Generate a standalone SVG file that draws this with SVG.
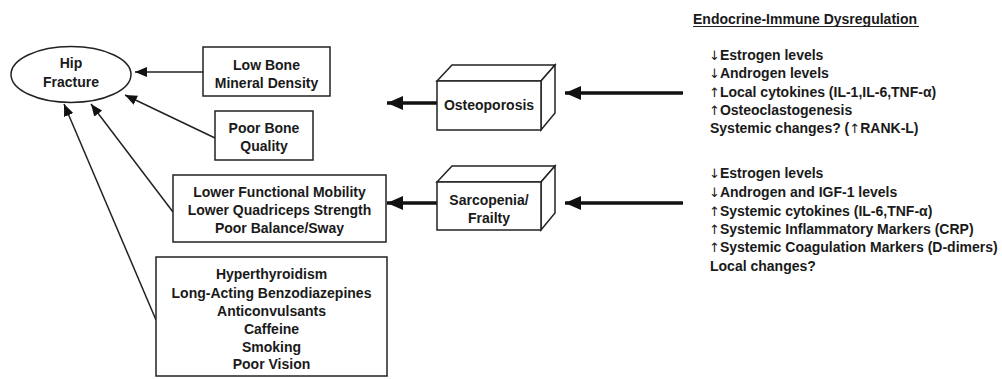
<svg xmlns="http://www.w3.org/2000/svg" width="1002" height="379" viewBox="0 0 1002 379">
<defs>
<style>
text{font-family:"Liberation Sans",Arial,sans-serif;font-weight:bold;font-size:14px;fill:#1a1a1a}
.c{text-anchor:middle}
.ar{font-family:"DejaVu Sans",sans-serif;font-weight:normal;font-size:13px}
.box{fill:#fff;stroke:#222;stroke-width:1.5}
.thin{stroke:#222;stroke-width:1.5;fill:none}
.thick{stroke:#111;stroke-width:3.5;fill:none}
</style>
<marker id="ah" viewBox="0 0 12 10" refX="12" refY="5" markerWidth="12" markerHeight="10" markerUnits="userSpaceOnUse" orient="auto"><path d="M0,0 L12,5 L0,10 Z" fill="#111"/></marker>
<marker id="ahb" viewBox="0 0 16 14" refX="16" refY="7" markerWidth="16" markerHeight="14" markerUnits="userSpaceOnUse" orient="auto"><path d="M0,0 L16,7 L0,14 Z" fill="#111"/></marker>
</defs>
<rect width="1002" height="379" fill="#fff"/>
<g id="connectors">
<line class="thin" x1="203" y1="72" x2="135" y2="72" marker-end="url(#ah)"/>
<line class="thin" x1="215" y1="138" x2="125" y2="95" marker-end="url(#ah)"/>
<line class="thin" x1="173" y1="212" x2="91" y2="104" marker-end="url(#ah)"/>
<line class="thin" x1="156" y1="320" x2="64" y2="104" marker-end="url(#ah)"/>
<line class="thick" x1="437" y1="103" x2="387" y2="103" marker-end="url(#ahb)"/>
<line class="thick" x1="437" y1="203" x2="387" y2="203" marker-end="url(#ahb)"/>
<line class="thick" x1="683" y1="93" x2="565" y2="93" marker-end="url(#ahb)"/>
<line class="thick" x1="683" y1="203" x2="565" y2="203" marker-end="url(#ahb)"/>
</g>
<g id="hip-fracture">
<ellipse class="box" cx="71" cy="74.5" rx="60" ry="28"/>
<text class="c" x="71" y="68">Hip</text>
<text class="c" x="71" y="87">Fracture</text>
</g>
<g id="low-bmd">
<rect class="box" x="203" y="47" width="127" height="49"/>
<text class="c" x="266.5" y="70">Low Bone</text>
<text class="c" x="266.5" y="88">Mineral Density</text>
</g>
<g id="poor-bone-quality">
<rect class="box" x="215" y="111" width="98" height="49"/>
<text class="c" x="264" y="133">Poor Bone</text>
<text class="c" x="264" y="151">Quality</text>
</g>
<g id="mobility">
<rect class="box" x="173" y="175" width="213" height="67"/>
<text class="c" x="279.5" y="197">Lower Functional Mobility</text>
<text class="c" x="279.5" y="215">Lower Quadriceps Strength</text>
<text class="c" x="279.5" y="233">Poor Balance/Sway</text>
</g>
<g id="other-factors">
<rect class="box" x="156" y="257" width="231" height="119"/>
<text class="c" x="271.5" y="279">Hyperthyroidism</text>
<text class="c" x="271.5" y="298">Long-Acting Benzodiazepines</text>
<text class="c" x="271.5" y="316">Anticonvulsants</text>
<text class="c" x="271.5" y="334">Caffeine</text>
<text class="c" x="271.5" y="352">Smoking</text>
<text class="c" x="271.5" y="369">Poor Vision</text>
</g>
<g id="osteoporosis">
<path class="box" d="M437,81 L452,65 L555,65 L541,81 Z"/>
<path class="box" d="M541,81 L555,65 L555,113 L541,130 Z"/>
<rect class="box" x="437" y="81" width="104" height="49"/>
<text class="c" x="489" y="110">Osteoporosis</text>
</g>
<g id="sarcopenia">
<path class="box" d="M437,182 L452,166 L555,166 L541,182 Z"/>
<path class="box" d="M541,182 L555,166 L555,213 L541,230 Z"/>
<rect class="box" x="437" y="182" width="104" height="48"/>
<text class="c" x="489" y="205">Sarcopenia/</text>
<text class="c" x="489" y="223">Frailty</text>
</g>
<g id="dysregulation">
<text x="693" y="24">Endocrine-Immune Dysregulation</text>
<line x1="693" y1="26.5" x2="919" y2="26.5" stroke="#222" stroke-width="1.2"/>
<text x="709" y="60"><tspan class="ar">↓</tspan>Estrogen levels</text>
<text x="709" y="78"><tspan class="ar">↓</tspan>Androgen levels</text>
<text x="709" y="97"><tspan class="ar">↑</tspan>Local cytokines (IL-1,IL-6,TNF-α)</text>
<text x="709" y="115"><tspan class="ar">↑</tspan>Osteoclastogenesis</text>
<text x="710" y="133">Systemic changes? (<tspan class="ar">↑</tspan>RANK-L)</text>
<text x="709" y="178"><tspan class="ar">↓</tspan>Estrogen levels</text>
<text x="709" y="197"><tspan class="ar">↓</tspan>Androgen and IGF-1 levels</text>
<text x="709" y="216"><tspan class="ar">↑</tspan>Systemic cytokines (IL-6,TNF-α)</text>
<text x="709" y="234"><tspan class="ar">↑</tspan>Systemic Inflammatory Markers (CRP)</text>
<text x="709" y="252"><tspan class="ar">↑</tspan>Systemic Coagulation Markers (D-dimers)</text>
<text x="710" y="271">Local changes?</text>
</g>
</svg>
